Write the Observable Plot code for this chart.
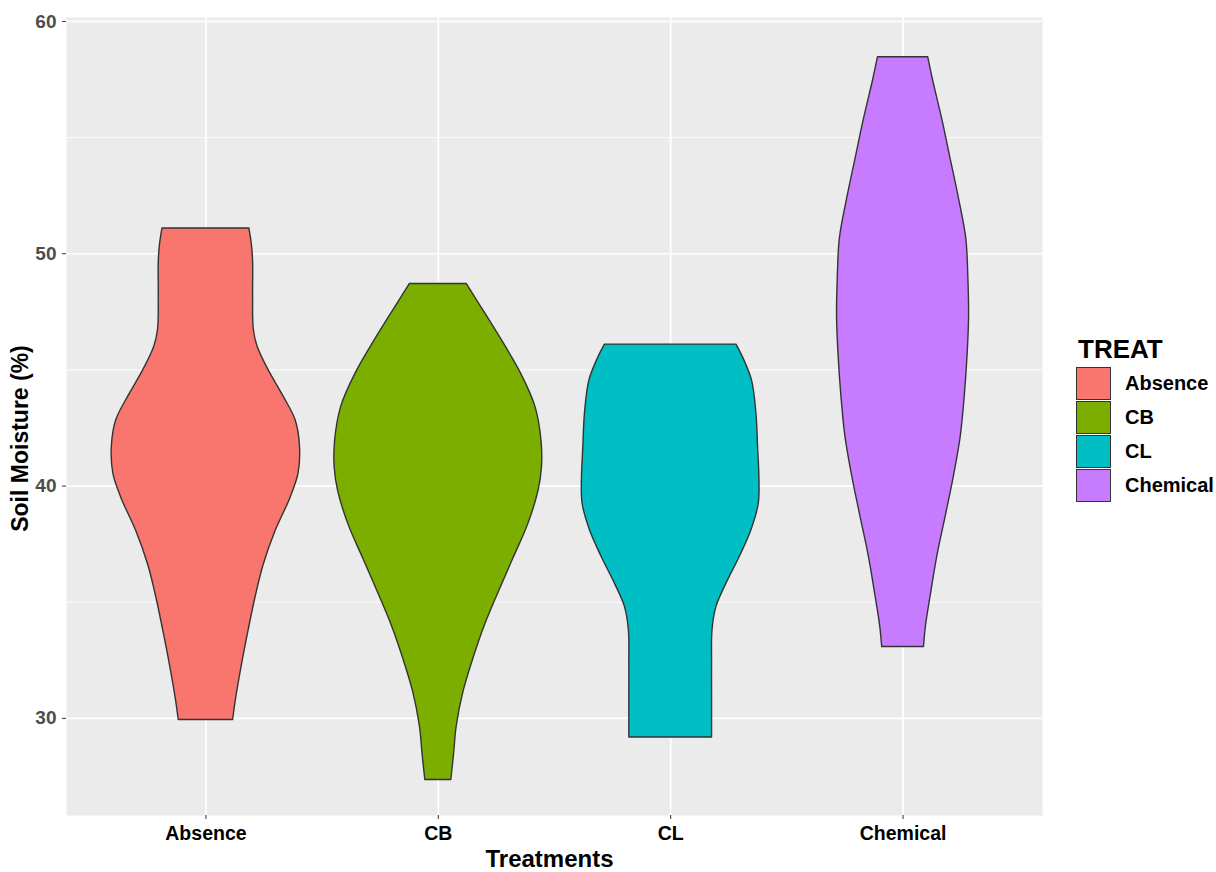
<!DOCTYPE html>
<html>
<head>
<meta charset="utf-8">
<script src="https://cdn.jsdelivr.net/npm/d3@7"></script>
<script src="https://cdn.jsdelivr.net/npm/@observablehq/plot@0.6"></script>
<style>
  html, body { margin: 0; padding: 0; background: #ffffff; }
  #wrap { position: relative; width: 1216px; height: 872px; font-family: "Liberation Sans", Arial, sans-serif; }
  #chart { position: absolute; left: 0; top: 0; }
  #legend { position: absolute; left: 1076px; top: 334px; }
  #legend .title { font-size: 26px; font-weight: bold; color: #000; line-height: 30px; height: 32px; margin-left: 2px; }
  #legend .row { display: flex; align-items: center; height: 34px; }
  #legend .key { width: 33px; height: 31px; border: 1px solid #333; box-sizing: content-box; }
  #legend .lab { margin-left: 14px; font-size: 20px; font-weight: bold; color: #000; }
</style>
</head>
<body>
<div id="wrap">
  <div id="chart"></div>
  <div id="legend"></div>
</div>
<script>
// ---- data ----
const categories = ["Absence", "CB", "CL", "Chemical"];
const colors = ["#F8766D", "#7CAE00", "#00BFC4", "#C77CFF"];
const yTicks = [30, 40, 50, 60];
const yMinor = [35, 45, 55];
const legendTitle = "TREAT";
const xTitle = "Treatments";
const yTitle = "Soil Moisture (%)";

// violin outlines: soil moisture value and scaled half-width (in category units)
const absenceY = [51.09, 50.36, 49.64, 48.19, 46.74, 46.01, 45.0, 43.84, 42.83, 41.67, 40.51, 39.49, 38.04, 36.59, 35.14, 33.70, 32.25, 30.80, 29.93];
const absenceW = [0.187, 0.198, 0.203, 0.203, 0.206, 0.222, 0.269, 0.335, 0.386, 0.405, 0.398, 0.364, 0.299, 0.248, 0.212, 0.182, 0.154, 0.129, 0.117];

const cbY = [48.70, 47.75, 46.30, 44.86, 43.41, 41.96, 40.80, 39.78, 38.33, 36.88, 35.43, 33.99, 32.54, 31.09, 29.64, 28.48, 27.35];
const cbW = [0.122, 0.182, 0.272, 0.355, 0.418, 0.444, 0.446, 0.431, 0.386, 0.323, 0.260, 0.200, 0.150, 0.107, 0.079, 0.068, 0.056];

const clY = [46.09, 45.54, 44.54, 43.11, 41.68, 40.24, 39.24, 38.09, 36.95, 35.80, 34.80, 33.80, 32.36, 30.93, 29.79, 29.18];
const clW = [0.283, 0.311, 0.350, 0.369, 0.376, 0.382, 0.379, 0.347, 0.297, 0.240, 0.197, 0.180, 0.178, 0.178, 0.178, 0.178];

const chemY = [58.46, 57.47, 55.77, 54.06, 52.35, 50.65, 48.94, 47.24, 45.53, 43.82, 42.12, 40.43, 38.72, 37.01, 35.29, 33.93, 33.07];
const chemW = [0.108, 0.129, 0.169, 0.205, 0.241, 0.272, 0.281, 0.284, 0.277, 0.265, 0.248, 0.219, 0.184, 0.148, 0.119, 0.098, 0.090];

// ---- build table ----
const profiles = [[absenceY, absenceW], [cbY, cbW], [clY, clW], [chemY, chemW]];
const rows = [];
profiles.forEach(([ys, ws], i) => {
  ys.forEach((v, j) => rows.push({treat: categories[i], pos: i + 1, y: v, w: ws[j]}));
});

const W = 1216, H = 872;
const chart = Plot.plot({
  width: W,
  height: H,
  marginLeft: 66,
  marginRight: 174,
  marginTop: 17,
  marginBottom: 57,
  style: {fontFamily: "'Liberation Sans', Arial, sans-serif", background: "transparent", overflow: "visible"},
  x: {domain: [0.4, 4.6], axis: null},
  y: {domain: [25.82, 60.17], axis: null},
  color: {domain: categories, range: colors},
  marks: [
    Plot.frame({fill: "#EBEBEB", stroke: "none"}),
    Plot.ruleY(yMinor, {stroke: "#ffffff", strokeWidth: 0.9}),
    Plot.ruleY(yTicks, {stroke: "#ffffff", strokeWidth: 1.7}),
    Plot.ruleX(categories.map((c, i) => i + 1), {stroke: "#ffffff", strokeWidth: 1.7}),
    Plot.areaX(rows, {
      y: "y",
      x1: d => d.pos - d.w,
      x2: d => d.pos + d.w,
      z: "treat",
      fill: "treat",
      stroke: "#333333",
      strokeWidth: 1.4,
      curve: "catmull-rom"
    }),
    Plot.axisY({
      ticks: yTicks, tickSize: 4, tickPadding: 6,
      stroke: "#333333", fill: "#4D4D4D",
      fontSize: 19, fontWeight: "bold", label: null
    }),
    Plot.axisX({
      ticks: categories.map((c, i) => i + 1),
      tickFormat: v => categories[v - 1],
      tickSize: 4, tickPadding: 7,
      stroke: "#333333", fill: "#000000",
      fontSize: 19.5, fontWeight: "bold", label: null
    }),
    Plot.text([xTitle], {frameAnchor: "bottom", textAnchor: "middle", dx: -5, dy: 51, fontSize: 24, fontWeight: "bold", fill: "#000"}),
    Plot.text([yTitle], {frameAnchor: "left", textAnchor: "middle", rotate: -90, dx: -46, dy: 22, fontSize: 23, fontWeight: "bold", fill: "#000"})
  ]
});
document.getElementById("chart").appendChild(chart);

// ---- legend ----
const lg = document.getElementById("legend");
const t = document.createElement("div");
t.className = "title";
t.textContent = legendTitle;
lg.appendChild(t);
categories.forEach((c, i) => {
  const r = document.createElement("div");
  r.className = "row";
  const k = document.createElement("div");
  k.className = "key";
  k.style.background = colors[i];
  const l = document.createElement("div");
  l.className = "lab";
  l.textContent = c;
  r.appendChild(k);
  r.appendChild(l);
  lg.appendChild(r);
});
</script>
</body>
</html>
